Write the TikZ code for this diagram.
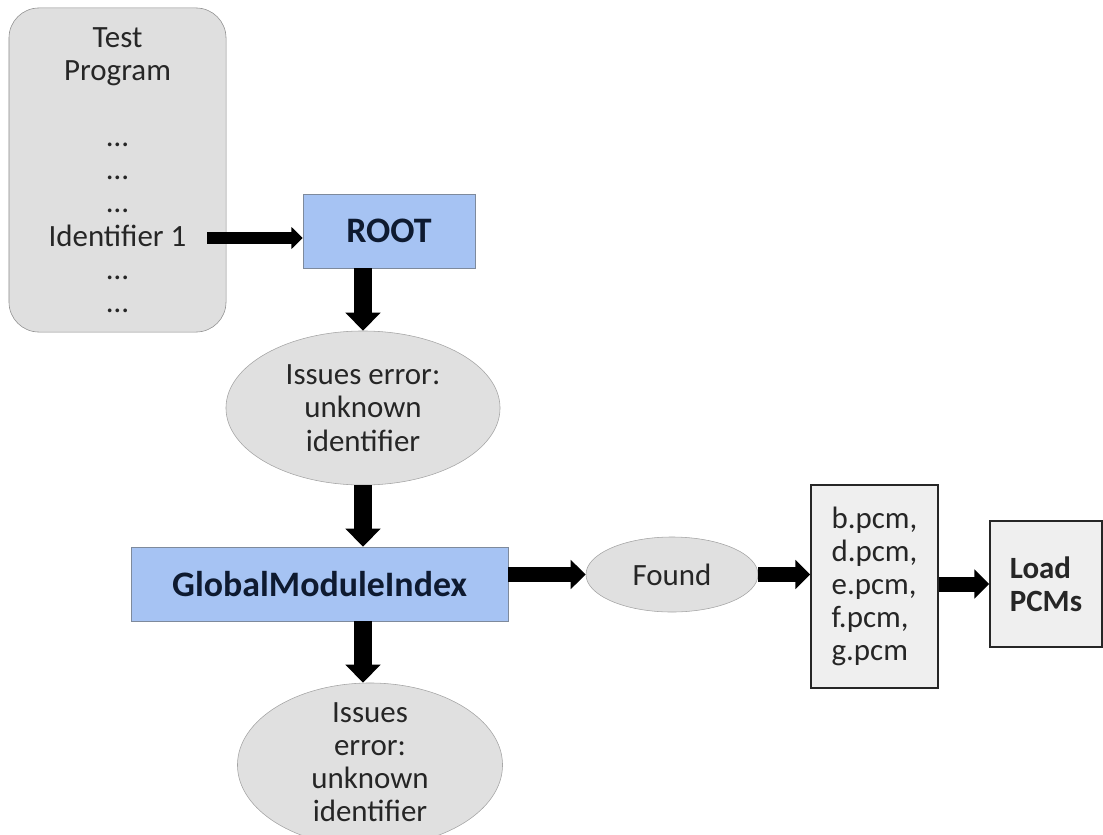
\documentclass[tikz,border=0pt]{standalone}
\usepackage{fontspec}
\setmainfont{Carlito}
\usetikzlibrary{shapes.geometric,arrows.meta}

\definecolor{progfill}{HTML}{DFDFDF}
\definecolor{progline}{HTML}{8E8E8E}
\definecolor{ellfill}{HTML}{E0E0E0}
\definecolor{ellline}{HTML}{A4A4A4}
\definecolor{rootblue}{HTML}{A6C3F3}
\definecolor{rootline}{HTML}{7E8A9C}
\definecolor{pcmfill}{HTML}{EFEFEF}
\definecolor{navytext}{HTML}{0E1A30}

\begin{document}
\begin{tikzpicture}[x=0.025cm,y=-0.025cm,
        font=\fontsize{22}{23.6}\selectfont, text=black!85,
        blau/.style={draw=rootline, fill=rootblue, inner sep=0,
            font=\fontsize{25.5}{28}\selectfont\bfseries, text=navytext},
        blase/.style={ellipse, draw=ellline, fill=ellfill, inner sep=0},
        kiste/.style={draw=black!85, line width=1pt, fill=pcmfill, inner sep=0, align=left},
        flow/.style={line width=#1, -{Triangle[width=0pt 1.9,length=0pt 1]}},
        flow/.default=0.375cm]
        \useasboundingbox (0,0) rectangle (1103,834);

        % Testprogramm
        \node[draw=progline, fill=progfill, rounded corners=0.75cm, inner sep=0,
            minimum width=5.425cm, minimum height=8.1cm, align=center] (prog) at (117.5,170)
            {Test\\Program\\\mbox{}\\…\\…\\…\\Identifier 1\\…\\…};
        \coordinate (id1) at (207,238);

        % Knoten
        \node[blau, minimum width=4.3cm, minimum height=1.85cm] (root) at (389,231) {ROOT};
        \node[blase, minimum width=6.85cm, minimum height=3.85cm, align=center] (err1) at (363,408)
            {Issues error:\\unknown\\identifier};
        \node[blau, minimum width=9.425cm, minimum height=1.85cm] (gmi) at (319.5,584) {GlobalModuleIndex};
        \node[blase, minimum width=6.625cm, minimum height=4.1cm] (err2) at (370,765) {};
        \node[align=center] (err2txt) at (370,762) {Issues\\error:\\unknown\\identifier};
        \node[blase, minimum width=4.3cm, minimum height=1.875cm] (found) at (672,574.5) {Found};
        \node[kiste, minimum width=3.175cm, minimum height=5.075cm] (pcm) at (874.5,586.5)
            {b.pcm,\\d.pcm,\\e.pcm,\\f.pcm,\\g.pcm};
        \node[kiste, minimum width=2.8cm, minimum height=3.15cm, font=\fontsize{22}{23.6}\selectfont\bfseries]
            (load) at (1046,584) {Load\\PCMs};

        % Pfeile
        \draw[flow=0.28cm] (id1) -- (id1 -| root.west);
        \draw[flow=0.45cm] (err1.north |- root.south) -- (err1.north);
        \draw[flow=0.45cm] (err1.south) -- (err1.south |- gmi.north);
        \draw[flow=0.45cm] (err1.south |- gmi.south) -- (err1.south |- err2.north);
        \draw[flow] (gmi.east |- found.west) -- (found.west);
        \draw[flow] (found.east) -- (found.east -| pcm.west);
        \draw[flow] (pcm.east |- load.west) -- (load.west);
    \end{tikzpicture}
\end{document}
